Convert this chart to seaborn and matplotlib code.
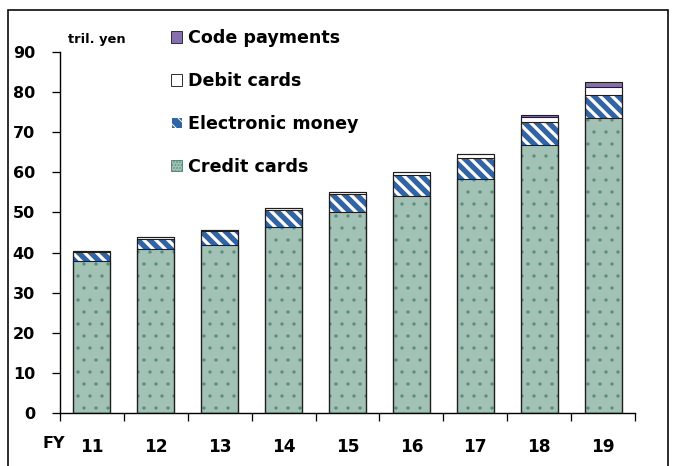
import matplotlib
matplotlib.use("Agg")
import matplotlib.pyplot as plt
from matplotlib.patches import Patch, Rectangle
import numpy as np
import pandas as pd
import seaborn as sns

# Cashless payment amounts by fiscal year (trillion yen)
fiscal_years = ["11", "12", "13", "14", "15", "16", "17", "18", "19"]
credit_cards = [37.9, 41.0, 42.0, 46.4, 50.0, 54.2, 58.3, 66.8, 73.6]
electronic_money = [2.2, 2.4, 3.3, 4.1, 4.6, 5.1, 5.2, 5.7, 5.8]
debit_cards = [0.4, 0.4, 0.4, 0.5, 0.6, 0.7, 1.0, 1.4, 1.9]
code_payments = [0.0, 0.0, 0.0, 0.0, 0.0, 0.0, 0.1, 0.4, 1.1]

y_ticks = [0, 10, 20, 30, 40, 50, 60, 70, 80, 90]

sns.set_theme(style="white")
plt.rcParams["font.family"] = ["DejaVu Sans"]
plt.rcParams["text.color"] = "black"
plt.rcParams["xtick.color"] = "black"
plt.rcParams["ytick.color"] = "black"

W, H, DPI = 673, 466, 72
fig = plt.figure(figsize=(W / DPI, H / DPI), dpi=DPI)
fig.patch.set_facecolor("white")

x0, x1 = 60, 635
y0, y1 = 413, 52
ax = fig.add_axes([x0 / W, (H - y0) / H, (x1 - x0) / W, (y0 - y1) / H])

df = pd.DataFrame({
    "year": fiscal_years,
    "credit": credit_cards,
    "emoney": electronic_money,
    "debit": debit_cards,
    "code": code_payments,
})
df["cum_credit"] = df["credit"]
df["cum_emoney"] = df["cum_credit"] + df["emoney"]
df["cum_debit"] = df["cum_emoney"] + df["debit"]
df["cum_code"] = df["cum_debit"] + df["code"]

CODE_C = "#8570ad"
EMONEY_C = "#2f64a6"
CREDIT_C = "#a1c2b5"
CREDIT_DOT = "#5a8a7a"

bar_w = 0.58
# stacked layers drawn from the tallest cumulative total down
layers = [
    ("cum_code", CODE_C, CODE_C, "", 1.0),
    ("cum_debit", "white", "white", "", 1.0),
    ("cum_emoney", EMONEY_C, "white", "\\\\", 3.2),
    ("cum_credit", CREDIT_C, CREDIT_DOT, ".", 0.8),
]
for col, face, hatch_col, hatch, hlw in layers:
    n_before = len(ax.patches)
    with plt.rc_context({"hatch.linewidth": hlw}):
        sns.barplot(data=df, x="year", y=col, color=face, saturation=1,
                    width=bar_w, edgecolor=hatch_col, linewidth=0,
                    hatch=hatch if hatch else None, ax=ax, zorder=2)
    for p in ax.patches[n_before:]:
        ax.add_patch(Rectangle(p.get_xy(), p.get_width(), p.get_height(),
                               fill=False, edgecolor="#1e1e1e",
                               linewidth=1.1, zorder=3))

ax.set_ylim(0, 90)
ax.set_xlim(-0.5, len(fiscal_years) - 0.5)
ax.set_yticks(y_ticks)
ax.set_yticklabels([str(v) for v in y_ticks], fontsize=16, fontweight="bold")
ax.set_xlabel("")
ax.set_ylabel("")

# category boundaries carry the tick marks, year labels sit at centres
ax.set_xticks(np.arange(-0.5, len(fiscal_years), 1.0))
ax.set_xticklabels([])
ax.set_xticks(np.arange(len(fiscal_years)), minor=True)
ax.set_xticklabels(fiscal_years, minor=True, fontsize=17, fontweight="bold")
ax.tick_params(axis="x", which="major", direction="out", length=8,
               width=1.3, color="black", bottom=True)
ax.tick_params(axis="x", which="minor", length=0, pad=25, bottom=True)
ax.tick_params(axis="y", direction="out", length=8, width=1.3,
               color="black", pad=17, left=True)

for side in ["top", "right"]:
    ax.spines[side].set_visible(False)
for side in ["left", "bottom"]:
    ax.spines[side].set_color("black")
    ax.spines[side].set_linewidth(1.4)
ax.grid(False)

fig.text(43 / W, 1 - 444 / H, "FY", fontsize=16, fontweight="bold",
         ha="left", va="center")
fig.text(68 / W, 1 - 40 / H, "tril. yen", fontsize=13, fontweight="bold",
         ha="left", va="center")

with plt.rc_context({"hatch.linewidth": 2.0}):
    handles = [
        Patch(facecolor=CODE_C, edgecolor="#333333", label="Code payments"),
        Patch(facecolor="white", edgecolor="#333333", label="Debit cards"),
        Patch(facecolor=EMONEY_C, edgecolor="white", hatch="\\\\",
              label="Electronic money"),
        Patch(facecolor=CREDIT_C, edgecolor=CREDIT_DOT, hatch="....",
              label="Credit cards"),
    ]
leg = fig.legend(handles=handles, loc="upper left",
                 bbox_to_anchor=(171 / W, 1 - 29 / H),
                 bbox_transform=fig.transFigure, frameon=False,
                 prop={"size": 17.5, "weight": "bold"}, borderpad=0,
                 borderaxespad=0, handlelength=0.65, handleheight=0.65,
                 handletextpad=0.3, labelspacing=1.42)

# outer frame around the chart
fig.add_artist(Rectangle((8 / W, -0.05), 660 / W, 1 - 10 / H + 0.05,
                         transform=fig.transFigure, fill=False,
                         edgecolor="black", linewidth=1.6))

fig.savefig("out.png", dpi=DPI, facecolor="white")
